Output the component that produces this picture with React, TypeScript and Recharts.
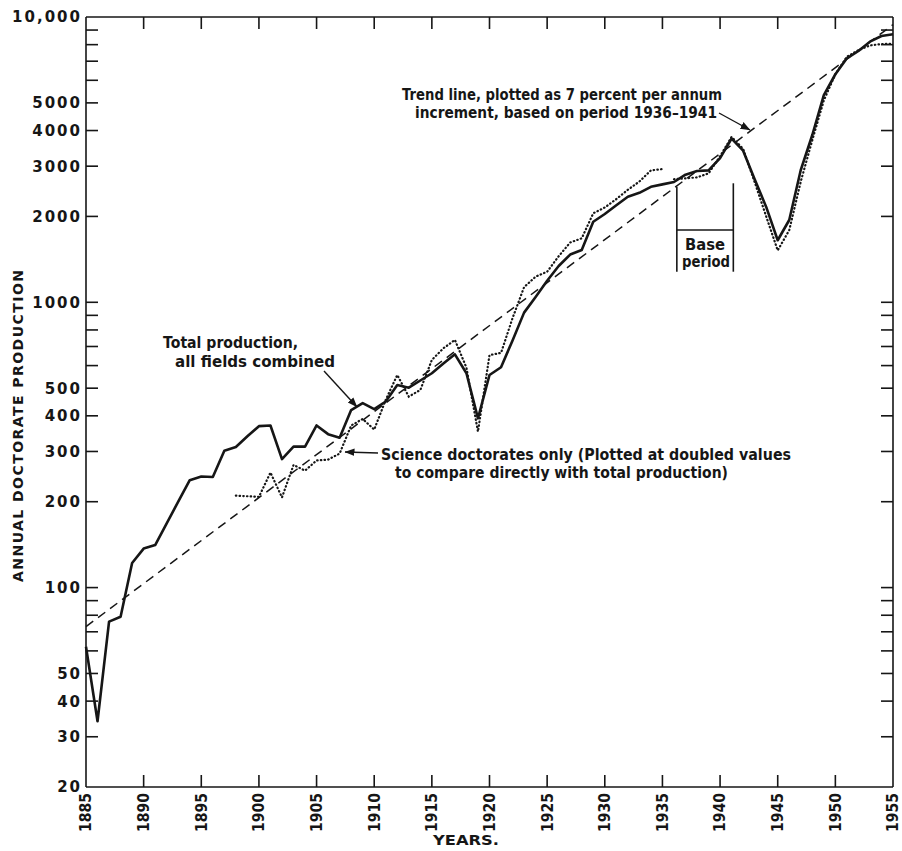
import React from 'react';
import { LineChart, Line, XAxis, YAxis, ReferenceLine } from 'recharts';

// ---- data ----
const firstYear = 1885;
const lastYear = 1955;

// Total production, all fields combined (annual doctorates)
const totalProduction = [
  62, 34, 76, 79, 122, 137, 141, 168, 200, 238,
  245, 244, 302, 311, 339, 368, 370, 282, 312, 312,
  370, 345, 335, 419, 443, 422, 449, 513, 502, 532,
  564, 610, 657, 564, 392, 556, 592, 735, 920, 1044,
  1190, 1340, 1470, 1525, 1916, 2040, 2190, 2345, 2420, 2540,
  2590, 2640, 2800, 2885, 2900, 3200, 3750, 3400, 2700, 2160,
  1650, 1943, 2909, 3858, 5328, 6300, 7165, 7600, 8193, 8578, 8700,
];

// Science doctorates only (plotted at doubled values), earlier series 1898-1935
const scienceEarlyStart = 1898;
const scienceEarly = [
  210, 209, 208, 253, 207, 269, 257, 279, 281, 295,
  370, 390, 358, 455, 556, 467, 493, 628, 690, 738,
  590, 352, 653, 665, 880, 1130, 1230, 1280, 1450, 1620,
  1676, 2051, 2150, 2300, 2480, 2650, 2900, 2930,
];

// Science doctorates only, later series 1936-1955
const scienceLateStart = 1936;
const scienceLate = [
  2700, 2720, 2740, 2830, 3250, 3800, 3450, 2640, 2000, 1520,
  1790, 2650, 3700, 5100, 6300, 7260, 7650, 7950, 8040, 8060,
];

// Trend line (7 percent per annum) end points
const trendYears = [1885, 1955];
const trendValues = [73, 9400];

// Base period bracket
const basePeriodYears = [1936.25, 1941.15];
const bracketTop = [2541, 2613];
const bracketBottom = 1280;
const bracketBar = 1792;

// axes
const xTicks = [1885, 1890, 1895, 1900, 1905, 1910, 1915, 1920, 1925, 1930, 1935, 1940, 1945, 1950, 1955];
const yTicks = [20, 30, 40, 50, 60, 70, 80, 90, 100, 200, 300, 400, 500, 600, 700, 800, 900,
  1000, 2000, 3000, 4000, 5000, 6000, 7000, 8000, 9000, 10000];
const yTickLabels = ['20', '30', '40', '50', '', '', '', '', '100', '200', '300', '400', '500', '', '', '', '',
  '1000', '2000', '3000', '4000', '5000', '', '', '', '', '10,000'];

// ---- build table ----
const rows: any[] = totalProduction.map((v, i) => {
  const year = firstYear + i;
  const r: any = { year, total: v };
  const ei = year - scienceEarlyStart;
  if (ei >= 0 && ei < scienceEarly.length) r.sciEarly = scienceEarly[ei];
  const li = year - scienceLateStart;
  if (li >= 0 && li < scienceLate.length) r.sciLate = scienceLate[li];
  const ti = trendYears.indexOf(year);
  if (ti >= 0) r.trend = trendValues[ti];
  return r;
});

const FONT = '"DejaVu Sans", Verdana, sans-serif';
const INK = '#161616';
const TICK = 12;

function LeftTick(props: any) {
  const { x, y, payload } = props;
  const v = payload.value as number;
  const lab = yTickLabels[yTicks.indexOf(v)];
  return (
    <g>
      {v !== 10000 && v !== 20 && (
        <line x1={x} y1={y} x2={x + TICK} y2={y} stroke={INK} strokeWidth={1.6} />
      )}
      {lab ? (
        <text x={x - 4} y={y} dy="0.36em" textAnchor="end" fontFamily={FONT} fontWeight={700}
          fontSize={15} letterSpacing={2} fill={INK}>{lab}</text>
      ) : null}
    </g>
  );
}

function RightTick(props: any) {
  const { x, y, payload } = props;
  const v = payload.value as number;
  if (v === 10000 || v === 20) return <g />;
  return <line x1={x} y1={y} x2={x - TICK} y2={y} stroke={INK} strokeWidth={1.6} />;
}

function TopTick(props: any) {
  const { x, y, payload } = props;
  const v = payload.value as number;
  if (v === firstYear || v === lastYear) return <g />;
  return <line x1={x} y1={y} x2={x} y2={y + TICK} stroke={INK} strokeWidth={1.6} />;
}

function BottomTick(props: any) {
  const { x, y, payload } = props;
  const v = payload.value as number;
  const ty = y + 6;
  return (
    <g>
      {v !== firstYear && v !== lastYear && (
        <line x1={x} y1={y} x2={x} y2={y - TICK} stroke={INK} strokeWidth={1.6} />
      )}
      <text x={x} y={ty} dy="0.36em" textAnchor="end" transform={`rotate(-90, ${x}, ${ty})`}
        fontFamily={FONT} fontWeight={700} fontSize={15} textLength={39}
        lengthAdjust="spacingAndGlyphs" fill={INK}>{String(v)}</text>
    </g>
  );
}

const axisLine = { stroke: INK, strokeWidth: 1.6 };

function Note(p: { x: number; y: number; w: number; size?: number; children: string; anchor?: string }) {
  return (
    <text x={p.x} y={p.y} fontFamily={FONT} fontWeight={700} fontSize={p.size ?? 15}
      textLength={p.w} lengthAdjust="spacingAndGlyphs" fill={INK} textAnchor={p.anchor as any}>
      {p.children}
    </text>
  );
}

export default function App() {
  return (
    <div style={{ position: 'relative', width: 902, height: 851, background: '#fff' }}>
      <style>{'html,body{margin:0;padding:0;overflow:hidden;background:#fff}'}</style>
      <LineChart width={902} height={851} data={rows} margin={{ top: 0, right: 0, bottom: 0, left: 0 }}>
        <XAxis xAxisId="b" type="number" dataKey="year" domain={[firstYear, lastYear]} ticks={xTicks}
          interval={0} height={64} tickLine={false} tickSize={0} tickMargin={0} axisLine={axisLine}
          tick={(p: any) => <BottomTick {...p} />} />
        <XAxis xAxisId="t" orientation="top" type="number" dataKey="year" domain={[firstYear, lastYear]}
          ticks={xTicks} interval={0} height={17} tickLine={false} tickSize={0} tickMargin={0}
          axisLine={axisLine} tick={(p: any) => <TopTick {...p} />} />
        <YAxis yAxisId="l" scale="log" domain={[20, 10000]} ticks={yTicks} interval={0} width={86}
          allowDataOverflow tickLine={false} tickSize={0} tickMargin={0} axisLine={axisLine}
          tick={(p: any) => <LeftTick {...p} />} />
        <YAxis yAxisId="r" orientation="right" scale="log" domain={[20, 10000]} ticks={yTicks}
          interval={0} width={9} allowDataOverflow tickLine={false} tickSize={0} tickMargin={0}
          axisLine={axisLine} tick={(p: any) => <RightTick {...p} />} />

        <ReferenceLine xAxisId="b" yAxisId="l" ifOverflow="visible"
          segment={[{ x: basePeriodYears[0], y: bracketTop[0] }, { x: basePeriodYears[0], y: bracketBottom }]}
          stroke={INK} strokeWidth={1.6} />
        <ReferenceLine xAxisId="b" yAxisId="l" ifOverflow="visible"
          segment={[{ x: basePeriodYears[1], y: bracketTop[1] }, { x: basePeriodYears[1], y: bracketBottom }]}
          stroke={INK} strokeWidth={1.6} />
        <ReferenceLine xAxisId="b" yAxisId="l" ifOverflow="visible"
          segment={[{ x: basePeriodYears[0], y: bracketBar }, { x: basePeriodYears[1], y: bracketBar }]}
          stroke={INK} strokeWidth={1.4} />

        <Line xAxisId="b" yAxisId="l" type="linear" dataKey="trend" connectNulls dot={false}
          stroke={INK} strokeWidth={1.5} strokeDasharray="9 6" isAnimationActive={false} />
        <Line xAxisId="b" yAxisId="l" type="linear" dataKey="sciEarly" dot={false} stroke={INK}
          strokeWidth={2.2} strokeDasharray="0.5 3.2" strokeLinecap="round" isAnimationActive={false} />
        <Line xAxisId="b" yAxisId="l" type="linear" dataKey="sciLate" dot={false} stroke={INK}
          strokeWidth={2.2} strokeDasharray="0.5 3.2" strokeLinecap="round" isAnimationActive={false} />
        <Line xAxisId="b" yAxisId="l" type="linear" dataKey="total" dot={false} stroke={INK}
          strokeWidth={2.6} strokeLinejoin="round" isAnimationActive={false} />
      </LineChart>

      <svg width={902} height={851} style={{ position: 'absolute', left: 0, top: 0, pointerEvents: 'none' }}>
        <defs>
          <marker id="ah" viewBox="0 0 10 10" refX="9.5" refY="5" markerWidth="10" markerHeight="10"
            markerUnits="userSpaceOnUse" orient="auto">
            <path d="M0,1.2 L10,5 L0,8.8 z" fill={INK} />
          </marker>
        </defs>

        {/* axis titles */}
        <text x={23} y={426} transform="rotate(-90, 23, 426)" textAnchor="middle" fontFamily={FONT}
          fontWeight={700} fontSize={14} textLength={312} lengthAdjust="spacing" fill={INK}>
          ANNUAL DOCTORATE PRODUCTION
        </text>
        <Note x={433} y={845} w={66} size={14}>YEARS.</Note>

        {/* trend annotation */}
        <Note x={402} y={100} w={320}>Trend line, plotted as 7 percent per annum</Note>
        <Note x={415} y={118} w={302}>increment, based on period 1936–1941</Note>
        <line x1={719} y1={113} x2={750} y2={130} stroke={INK} strokeWidth={1.4} markerEnd="url(#ah)" />

        {/* total annotation */}
        <Note x={163} y={348} w={135}>Total production,</Note>
        <Note x={175} y={367} w={160}>all fields combined</Note>
        <line x1={324} y1={371} x2={357} y2={407} stroke={INK} strokeWidth={1.4} markerEnd="url(#ah)" />

        {/* science annotation */}
        <Note x={381} y={460} w={410}>Science doctorates only (Plotted at doubled values</Note>
        <Note x={395} y={478} w={333}>to compare directly with total production)</Note>
        <line x1={378} y1={453} x2={345} y2={452} stroke={INK} strokeWidth={1.4} markerEnd="url(#ah)" />

        {/* base period */}
        <Note x={685} y={250} w={40}>Base</Note>
        <Note x={682} y={267} w={48}>period</Note>
      </svg>
    </div>
  );
}
